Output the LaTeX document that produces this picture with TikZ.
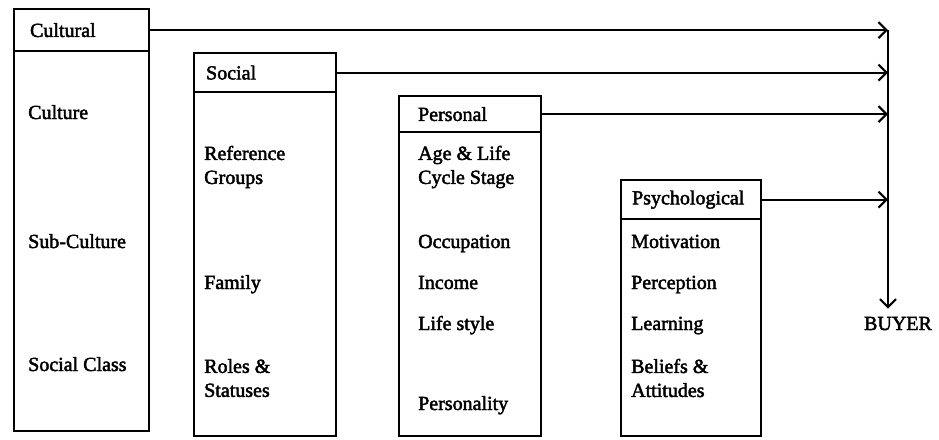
\documentclass[tikz,border=0pt]{standalone}
\usepackage{fontspec}
\setmainfont{Liberation Serif}[BoldFont={Liberation Serif}, BoldFeatures={FakeBold=2.2}]
\usetikzlibrary{arrows.meta, positioning, calc}
\tikzset{
    factorhead/.style={
        rectangle, draw=black, line width=2.2pt, anchor=north west,
        inner xsep=0pt, inner ysep=0pt, align=left,
        font=\fontsize{20}{24}\selectfont\bfseries
    },
    factorbody/.style={
        rectangle, draw=black, line width=2.2pt, anchor=north west,
        inner sep=0pt
    },
    item/.style={anchor=base west, align=left, inner sep=0pt,
        font=\fontsize{20}{24}\selectfont\bfseries},
    feed/.style={draw=black, line width=2.2pt,
        -{Straight Barb[length=8pt, width=16pt, line width=2.2pt]}}
}

\begin{document}
\begin{tikzpicture}[x=1pt, y=-1pt]
\useasboundingbox (0,0) rectangle (939,439);

% Factor boxes: header on top of body
\node[factorbody, minimum width=135pt, minimum height=422pt] (culturalbox) at (13,8) {};
\node[factorhead, minimum width=135pt, minimum height=42pt, text width=135pt] (cultural) at (13,8) {\hspace*{16pt}Cultural};

\node[factorbody, minimum width=142pt, minimum height=383pt] (socialbox) at (193,52) {};
\node[factorhead, minimum width=142pt, minimum height=39pt, text width=142pt] (social) at (193,52) {\hspace*{12pt}Social};

\node[factorbody, minimum width=142pt, minimum height=340pt] (personalbox) at (398,95) {};
\node[factorhead, minimum width=142pt, minimum height=36pt, text width=142pt] (personal) at (398,95) {\hspace*{19pt}Personal};

\node[factorbody, minimum width=140pt, minimum height=256pt] (psychbox) at (620,179) {};
\node[factorhead, minimum width=140pt, minimum height=39pt, text width=140pt] (psych) at (620,179) {\hspace*{11pt}Psychological};

% Items (single lines on their baselines, two-line items centred)
\node[item] (culture) at (28,119) {Culture};
\node[item] (subculture) at (28,248) {Sub-Culture};
\node[item] (socialclass) at (28,371) {Social Class};

\node[item, anchor=west] (refgroups) at (204,167) {Reference\\Groups};
\node[item] (family) at (204,289) {Family};
\node[item, anchor=west] (roles) at (204,378) {Roles \&\\Statuses};

\node[item, anchor=west] (agelife) at (418,167) {Age \& Life\\Cycle Stage};
\node[item] (occupation) at (418,248) {Occupation};
\node[item] (income) at (418,289) {Income};
\node[item] (lifestyle) at (418,330) {Life style};
\node[item] (personality) at (418,410) {Personality};

\node[item] (motivation) at (631,248) {Motivation};
\node[item] (perception) at (631,289) {Perception};
\node[item] (learning) at (631,330) {Learning};
\node[item, anchor=west] (beliefs) at (631,378) {Beliefs \&\\Attitudes};

% Buyer and the collecting line
\node[item, anchor=base] (buyer) at (898,330) {BUYER};
\coordinate (collect) at (888,30);

\draw[feed] (cultural.east) -- (cultural.east -| collect);
\draw[feed] (social.east) -- (social.east -| collect);
\draw[feed] (personal.east) -- (personal.east -| collect);
\draw[feed] (psych.east) -- (psych.east -| collect);
\draw[feed, shorten >=8pt] (collect) -- (buyer.north -| collect);

\end{tikzpicture}
\end{document}
